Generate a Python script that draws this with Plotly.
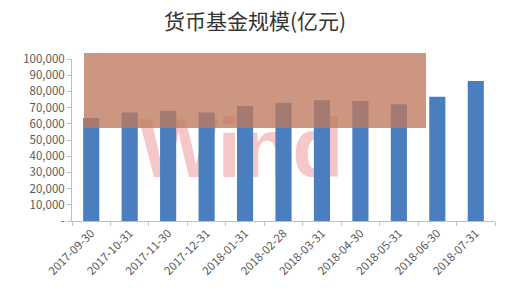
import plotly.graph_objects as go

categories = ["2017-09-30", "2017-10-31", "2017-11-30", "2017-12-31", "2018-01-31",
              "2018-02-28", "2018-03-31", "2018-04-30", "2018-05-31", "2018-06-30",
              "2018-07-31"]
values = [63600, 67000, 68100, 67000, 71000, 73000, 74500, 74000, 72000, 76700, 86400]
tick_vals = [0, 10000, 20000, 30000, 40000, 50000, 60000, 70000, 80000, 90000, 100000]
tick_text = ["-", "10,000", "20,000", "30,000", "40,000", "50,000", "60,000",
             "70,000", "80,000", "90,000", "100,000"]
title_text = "货币基金规模(亿元)"
watermark = "Wind"

fig = go.Figure()
fig.add_trace(go.Bar(x=categories, y=values, marker_color="#4a7ebf",
                     marker_line_width=0, width=0.42))

font_family = "Noto Sans CJK SC, Noto Sans, sans-serif"
fig.update_layout(
    width=510, height=295,
    margin=dict(l=72, r=15, t=59, b=74),
    paper_bgcolor="white", plot_bgcolor="white",
    showlegend=False,
    font=dict(family=font_family, color="#595959", size=11),
    title=dict(text=title_text, x=0.5, xanchor="center", y=0.925, yanchor="middle",
               font=dict(size=21, color="#333333", family=font_family)),
)
fig.update_xaxes(type="category", showline=True, linecolor="#bfbfbf", linewidth=1,
                 ticks="outside", tickcolor="#bfbfbf", ticklen=4, tickson="boundaries",
                 tickangle=-45, tickfont=dict(size=11.5, color="#595959"), showgrid=False)
fig.update_yaxes(range=[0, 100000], tickvals=tick_vals, ticktext=tick_text,
                 showline=True, linecolor="#bfbfbf", linewidth=1,
                 ticks="outside", tickcolor="#bfbfbf", ticklen=4, showgrid=False,
                 zeroline=False, tickfont=dict(size=11.5, color="#595959"))

# faint source watermark, behind the bars
fig.add_shape(type="rect", xref="paper", yref="paper", x0=0.1, x1=0.7, y0=0.25, y1=0.75,
              layer="below", line_width=0, fillcolor="rgba(0,0,0,0)",
              label=dict(text=watermark, textposition="middle center",
                         font=dict(size=84, color="rgba(235,130,135,0.45)",
                                   family="Liberation Sans, Arial", weight="bold")))
# overlay banner
fig.add_shape(type="rect", xref="paper", yref="paper", x0=(84-72)/423, x1=(426-72)/423,
              y0=(221-128)/162, y1=(221-53)/162, layer="above", line_width=0,
              fillcolor="rgba(190,120,92,0.78)")

fig.write_html("out.html")
